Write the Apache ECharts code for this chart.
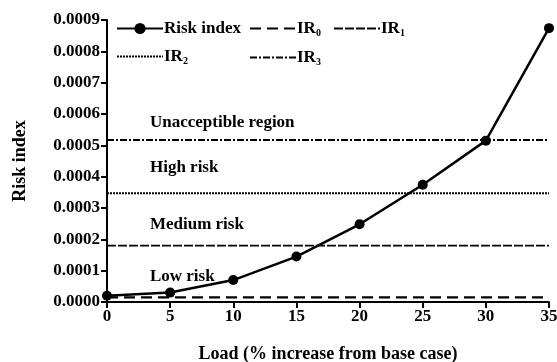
<!DOCTYPE html>
<html>
<head>
<meta charset="utf-8">
<script src="https://cdn.jsdelivr.net/npm/echarts@6/dist/echarts.min.js"></script>
<style>
html,body{margin:0;padding:0;background:#fff;}
#chart{width:557px;height:362px;}
</style>
</head>
<body>
<div id="chart"></div>
<script>
// Load levels (% increase from base case)
const loads = [0, 5, 10, 15, 20, 25, 30, 35];
// Computed risk index at each load level
const riskIndex = [0.00002, 0.00003, 0.00007, 0.000145, 0.000248, 0.000374, 0.000515, 0.000874];
// Risk thresholds separating the regions
const thresholdNames = ['IR0', 'IR1', 'IR2', 'IR3'];
const thresholdValues = [0.000015, 0.00018, 0.000347, 0.000517];
// Region annotations and the y value each one sits at
const regionLabels = ['Unacceptible region', 'High risk', 'Medium risk', 'Low risk'];
const regionLabelY = [0.000573, 0.000428, 0.000247, 0.00008];

const FONT = '"Liberation Serif", "DejaVu Serif", serif';
const FS = 17;
const dashes = [[11, 6], [9, 2], [2, 1], [7, 2, 2, 2]];
const widths = [2.2, 1.8, 1.8, 1.8];

const chart = echarts.init(document.getElementById('chart'));

const thresholdSeries = thresholdNames.map((n, i) => ({
  name: n,
  type: 'line',
  symbol: 'none',
  silent: true,
  data: [[loads[0], thresholdValues[i]], [loads[loads.length - 1], thresholdValues[i]]],
  lineStyle: { color: '#000', width: widths[i], type: dashes[i] },
  itemStyle: { color: '#000' },
  z: 1
}));

const legendText = {
  fontFamily: FONT, fontSize: FS, fontWeight: 'bold', color: '#000', padding: [0, 0, 0, -4],
  rich: {
    b: { fontFamily: FONT, fontSize: FS, fontWeight: 'bold', color: '#000' },
    s: { fontFamily: FONT, fontSize: 10, fontWeight: 'bold', color: '#000', verticalAlign: 'bottom', padding: [9, 0, 0, 0] }
  }
};
const legendFmt = name => name.startsWith('IR') ? '{b|IR}{s|' + name.slice(2) + '}' : name;
const legendBase = {
  orient: 'vertical', itemWidth: 46, itemHeight: 14, itemGap: 11,
  textStyle: legendText, formatter: legendFmt, padding: 0, selectedMode: false
};
// threshold entries show only their line pattern, no marker
const noMarker = n => ({ name: n, itemStyle: { opacity: 0 } });

chart.setOption({
  animation: false,
  backgroundColor: '#fff',
  grid: { left: 107, right: 8, top: 20, bottom: 60, outerBoundsMode: 'none', containLabel: false },
  legend: [
    Object.assign({ left: 116, top: 20, data: ['Risk index', noMarker('IR2')] }, legendBase),
    Object.assign({ left: 249, top: 20, data: [noMarker('IR0'), noMarker('IR3')] }, legendBase),
    Object.assign({ left: 333, top: 20, itemWidth: 37, data: [noMarker('IR1')] }, legendBase)
  ],
  xAxis: {
    type: 'value', min: 0, max: 35, interval: 5,
    name: 'Load (% increase from base case)', nameLocation: 'middle', nameGap: 43,
    nameTextStyle: { fontFamily: FONT, fontSize: FS + 1, fontWeight: 'bold', color: '#000' },
    axisLine: { lineStyle: { color: '#000', width: 2 } },
    axisTick: { length: 6, lineStyle: { color: '#000', width: 2 } },
    axisLabel: { fontFamily: FONT, fontSize: FS, fontWeight: 'bold', color: '#000', margin: 6 },
    splitLine: { show: false }
  },
  yAxis: {
    type: 'value', min: 0, max: 0.0009, interval: 0.0001,
    name: 'Risk index', nameLocation: 'middle', nameGap: 78, nameRotate: 90,
    nameTextStyle: { fontFamily: FONT, fontSize: FS + 1, fontWeight: 'bold', color: '#000' },
    axisLine: { show: true, lineStyle: { color: '#000', width: 2 } },
    axisTick: { show: true, length: 6, lineStyle: { color: '#000', width: 2 } },
    axisLabel: { fontFamily: FONT, fontSize: FS, fontWeight: 'bold', color: '#000', margin: 7,
      formatter: v => v.toFixed(4) },
    splitLine: { show: false }
  },
  series: [
    {
      name: 'Risk index',
      type: 'line',
      data: loads.map((x, i) => [x, riskIndex[i]]),
      symbol: 'circle', symbolSize: 10,
      lineStyle: { color: '#000', width: 2.5 },
      itemStyle: { color: '#000' },
      z: 3
    }
  ].concat(thresholdSeries)
});

// Region annotations placed at data coordinates
const graphics = regionLabels.map((t, i) => {
  const p = chart.convertToPixel({ gridIndex: 0 }, [3.4, regionLabelY[i]]);
  return {
    type: 'text', x: p[0], y: p[1],
    style: { text: t, fontFamily: FONT, fontSize: FS, fontWeight: 'bold', fill: '#000',
      textVerticalAlign: 'middle' }
  };
});
chart.setOption({ graphic: graphics });
</script>
</body>
</html>
